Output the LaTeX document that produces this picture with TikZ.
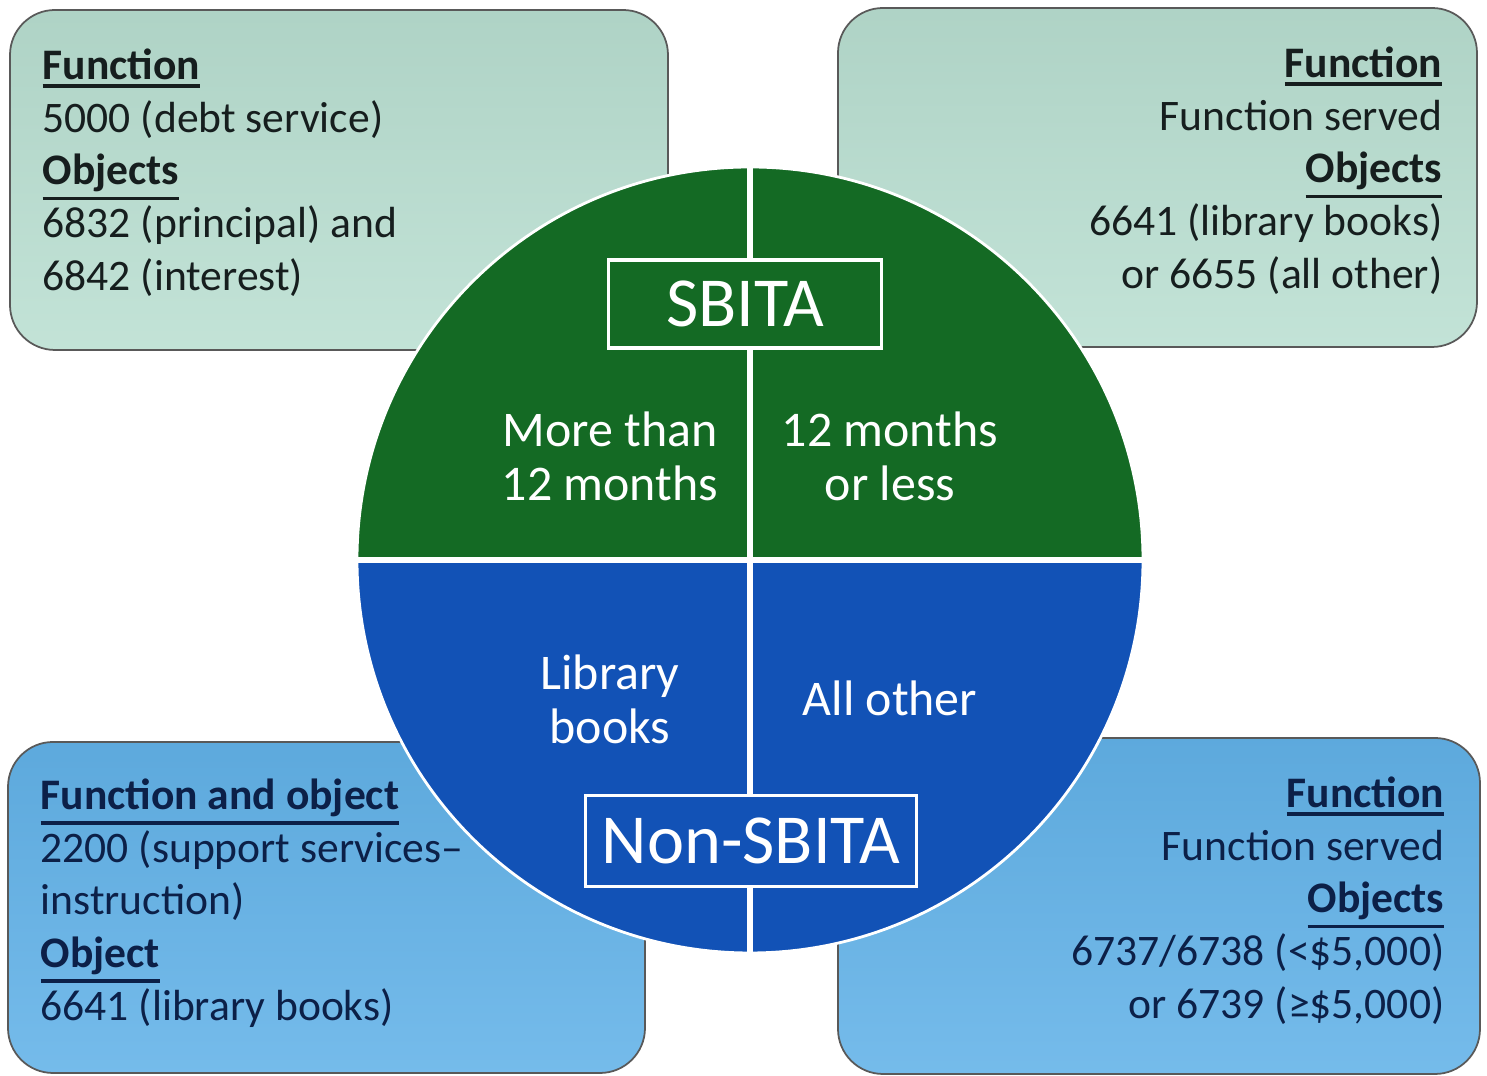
\documentclass[tikz,border=0pt]{standalone}
\usepackage{fontspec}
\setmainfont{Carlito}
\usetikzlibrary{positioning}

\definecolor{sbgreen}{RGB}{20,106,36}
\definecolor{nsblue}{RGB}{18,82,182}
\definecolor{palegreen}{RGB}{184,222,208}
\definecolor{paleblue}{RGB}{98,178,232}
\definecolor{darktext}{RGB}{22,30,30}
\definecolor{navytext}{RGB}{12,32,72}

% underlined bold heading inside the cards
\newcommand{\hd}[1]{\leavevmode\vtop{\hbox{\textbf{#1}}\kern1.3pt\hrule height 1pt}}

\begin{document}
\begin{tikzpicture}[x=0.1mm,y=0.1mm,
    card/.style={draw=black!65, line width=0.5pt, rounded corners=4.5mm},
    greencard/.style={card, top color=palegreen!95!black, bottom color=palegreen!85!white},
    bluecard/.style={card, top color=paleblue!95!black, bottom color=paleblue!88!white},
    cardtext/.style={inner sep=0pt, font=\fontsize{12.4}{15}\selectfont},
    quadtext/.style={inner sep=0pt, text=white, align=center, font=\fontsize{14.2}{15.4}\selectfont},
    tag/.style={draw=white, line width=1.1pt, text=white, inner sep=0pt},
    divider/.style={white, line width=1.5pt}]

    \useasboundingbox (0,0) rectangle (1487,1076);

    % the four cards behind the disc
    \draw[greencard] (10,1066) rectangle (668,726);
    \draw[greencard] (838,1068) rectangle (1477,729);
    \draw[bluecard] (8,334) rectangle (645,3);
    \draw[bluecard] (838,338) rectangle (1480,2);

    \node (tl) [cardtext, text=darktext, anchor=north west, align=left] at (42,1028)
        {\hd{Function}\\ 5000 (debt service)\\ \hd{Objects}\\ 6832 (principal) and\\ 6842 (interest)};
    \node (tr) [cardtext, text=darktext, anchor=north east, align=right] at (1443,1030)
        {\hd{Function}\\ Function served\\ \hd{Objects}\\ 6641 (library books)\\ or 6655 (all other)};
    \node (bl) [cardtext, text=navytext, anchor=north west, align=left] at (40,298)
        {\hd{Function and object}\\ 2200 (support services--\\ instruction)\\ \hd{Object}\\ 6641 (library books)};
    \node (br) [cardtext, text=navytext, anchor=north east, align=right] at (1445,300)
        {\hd{Function}\\ Function served\\ \hd{Objects}\\ 6737/6738 (<\$5,000)\\ or 6739 (≥\$5,000)};

    % the disc, green on top and blue below
    \node (disc) [circle, minimum size=78.6mm, inner sep=0pt, outer sep=0pt] at (750,516) {};
    \fill[sbgreen] (357,516) arc[start angle=180, end angle=0, radius=393] -- cycle;
    \fill[nsblue] (357,516) arc[start angle=180, end angle=360, radius=393] -- cycle;
    \draw[white, line width=0.8pt] (disc) circle[radius=393];
    \draw[divider] (disc.north) -- (disc.south);
    \draw[divider] (disc.west) -- (disc.east);

    \node (sbita) [tag, fill=sbgreen, minimum width=27.3mm, minimum height=8.8mm,
        font=\fontsize{20}{20}\selectfont] at (745,772) {SBITA};
    \node (nonsbita) [tag, fill=nsblue, minimum width=33.1mm, minimum height=9.1mm,
        font=\fontsize{20}{20}\selectfont] at (751,235) {Non-SBITA};

    \node (long) [quadtext] at (610,620) {More than\\ 12 months};
    \node (short) [quadtext] at (890,620) {12 months\\ or less};
    \node (books) [quadtext] at (610,377) {Library\\ books};
    \node (other) [quadtext] at (890,378) {All other};

\end{tikzpicture}
\end{document}
